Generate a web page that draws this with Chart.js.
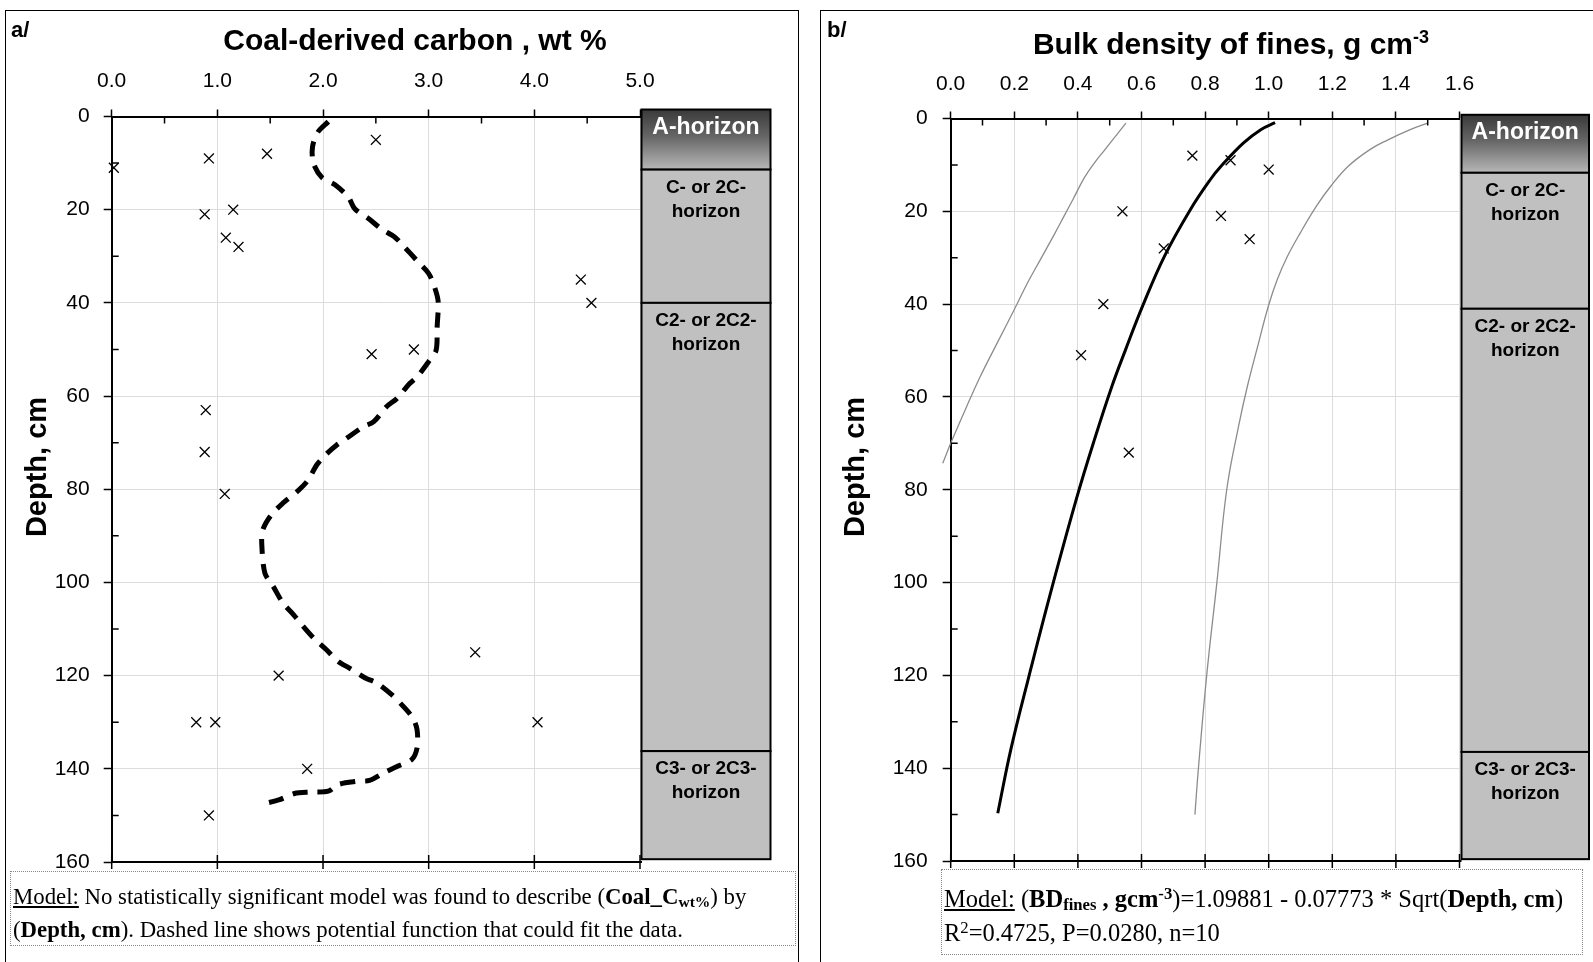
<!DOCTYPE html>
<html lang="en">
<head>
<meta charset="UTF-8" />
<title>Coal-derived carbon and bulk density of fines</title>
<script src="https://cdn.jsdelivr.net/npm/chart.js"></script>
<style>
    body { margin: 0; width: 1593px; height: 962px; background: #fff; position: relative; overflow: hidden;
           font-family: "Liberation Sans", Arial, sans-serif; }
    .panel { position: absolute; border: 1.5px solid #000; box-sizing: border-box; }
    #panelA { left: 5px; top: 10px; width: 794px; height: 1000px; }
    #panelB { left: 820px; top: 10px; width: 780px; height: 1000px; }
    canvas { position: absolute; top: 0; }
    #chartA { left: 0; }
    #chartB { left: 820px; }
    .tag { position: absolute; top: 17px; font: bold 22px "Liberation Sans", Arial, sans-serif; }
    .title { position: absolute; text-align: center; font: bold 30px/34px "Liberation Sans", Arial, sans-serif; }
    .title sup { font-size: 18px; vertical-align: 11px; line-height: 0; }
    .ytitle { position: absolute; width: 200px; margin-left: -100px; text-align: center; transform: rotate(-90deg);
              font: bold 29px/34px "Liberation Sans", Arial, sans-serif; }
    .note { position: absolute; border: 1px dotted #888; box-sizing: border-box;
            font-family: "Liberation Serif", "Times New Roman", serif; padding-left: 2px; white-space: nowrap; }
    .note sub { font-size: 0.68em; vertical-align: -0.2em; line-height: 0; }
    .note sup { font-size: 0.68em; vertical-align: 0.5em; line-height: 0; }
</style>
</head>
<body>
<div class="panel" id="panelA"></div>
<div class="panel" id="panelB"></div>
<canvas id="chartA" width="800" height="962"></canvas>
<canvas id="chartB" width="773" height="962"></canvas>

<div class="tag" style="left:11px">a/</div>
<div class="tag" style="left:827px">b/</div>
<div class="title" style="left:0; width:830px; top:23px">Coal-derived carbon , wt %</div>
<div class="title" style="left:820px; width:822px; top:27px">Bulk density of fines, g cm<sup>-3</sup></div>
<div class="ytitle" style="left:36px; top:450px">Depth, cm</div>
<div class="ytitle" style="left:854px; top:450px">Depth, cm</div>

<div class="note" style="left:10px; top:871px; width:786px; height:75px; padding-top:8px; font-size:22.8px; line-height:33px">
<u>Model:</u> No statistically significant model was found to describe (<b>Coal_C<sub>wt%</sub></b>) by<br>(<b>Depth, cm</b>). Dashed line shows potential function that could fit the data.</div>
<div class="note" style="left:941px; top:869px; width:642px; height:86px; padding-top:12px; font-size:24.5px; line-height:34px">
<u>Model:</u> (<b>BD<sub>fines</sub> , gcm<sup>-3</sup></b>)=1.09881 - 0.07773 * Sqrt(<b>Depth, cm</b>)<br>R<sup>2</sup>=0.4725, P=0.0280, n=10</div>

<script>
// ---- panel a: coal-derived carbon ----
const coalDepth = [5, 8, 9, 11, 20, 21, 26, 28, 35, 40, 50, 51, 63, 72, 81, 115, 120, 130, 130, 130, 140, 150];
const coalC = [2.50, 1.47, 0.92, 0.02, 1.15, 0.88, 1.08, 1.20, 4.44, 4.54, 2.86, 2.46, 0.89, 0.88, 1.07, 3.44, 1.58, 0.80, 0.98, 4.03, 1.85, 0.92];

// dashed "potential function"
const guessDepth = [1.1, 3.4, 6.6, 10.1, 13.1, 14.6, 17.3, 19.8, 21.9, 24.1, 25.9, 28, 31.2, 33.7, 36.9, 39.8, 45.2, 50.2,
    52.6, 55.9, 57.3, 60.5, 62.3, 65.5, 66.6, 69.1, 70.5, 72.7, 74.8, 78, 80.2, 83, 85.5, 88.7, 91.6, 98, 100.9, 104.4,
    106.9, 109.1, 111.9, 114.4, 116.9, 118.4, 120.5, 121.6, 124.1, 126.6, 129.1, 131.6, 135.5, 138, 139.4, 140.7, 142.5,
    142.7, 143.4, 144.8, 145, 145.3, 146.6, 147.5];
const guessC = [2.05, 1.95, 1.90, 1.91, 1.99, 2.11, 2.24, 2.30, 2.43, 2.55, 2.68, 2.77, 2.90, 3.00, 3.06, 3.09, 3.08, 3.07,
    3.00, 2.89, 2.82, 2.70, 2.60, 2.48, 2.38, 2.22, 2.13, 2.02, 1.94, 1.86, 1.77, 1.62, 1.51, 1.43, 1.42, 1.45, 1.53, 1.62,
    1.72, 1.80, 1.91, 2.03, 2.14, 2.25, 2.40, 2.51, 2.65, 2.76, 2.85, 2.89, 2.89, 2.84, 2.71, 2.59, 2.44,
    2.32, 2.14, 2.05, 1.88, 1.73, 1.59, 1.44];

// ---- panel b: bulk density of fines ----
const bdDepth = [8, 9, 11, 20, 21, 26, 28, 40, 51, 72];
const bdFines = [0.76, 0.88, 1.00, 0.54, 0.85, 0.94, 0.67, 0.48, 0.41, 0.56];

const fitDepth = [0.9, 2.4, 5.3, 10.3, 13.2, 19.7, 29.7, 40.5, 49.8, 57.7, 69.2, 81.8, 102.2, 120.2, 136, 149.7];
const fitBD = [1.020, 0.975, 0.920, 0.850, 0.816, 0.753, 0.672, 0.603, 0.550, 0.507, 0.452, 0.396, 0.314, 0.246, 0.189, 0.148];

const lowDepth = [1, 6.7, 9.3, 12.8, 17.5, 21.1, 24.7, 30.4, 35.5, 40.9, 48.4, 55.6, 62.1, 70, 74.3];
const lowBD = [0.551, 0.485, 0.455, 0.420, 0.384, 0.356, 0.328, 0.282, 0.241, 0.202, 0.146, 0.093, 0.050, 0.0, -0.025];

const upDepth = [1, 2.4, 4.6, 6.7, 10.3, 14.6, 18.9, 24.7, 29.7, 34.7, 40.4, 48.4, 57.7, 66.4, 80, 100, 120, 140, 150];
const upBD = [1.500, 1.445, 1.375, 1.318, 1.250, 1.195, 1.150, 1.099, 1.059, 1.027, 0.999, 0.968, 0.933, 0.905, 0.868,
    0.837, 0.805, 0.779, 0.768];

// soil horizons (depth limits, cm)
const horizonNames = [["A-horizon"], ["C- or 2C-", "horizon"], ["C2- or 2C2-", "horizon"], ["C3- or 2C3-", "horizon"]];
const horizonTopA = [-1.5, 11.4, 40, 136.2];
const horizonBottomA = [11.4, 40, 136.2, 159.4];
const horizonTopB = [-0.8, 11.7, 41, 136.5];
const horizonBottomB = [11.7, 41, 136.5, 159.6];

const depthTicks = [0, 20, 40, 60, 80, 100, 120, 140, 160];

function pts(xs, ys) {
    return xs.map((d, i) => ({ x: ys[i], y: d }));
}

const FONT = "'Liberation Sans', Arial, sans-serif";

// bottom edge, minor ticks and the horizon column
const framePlugin = {
    id: "frame",
    afterDraw(chart, args, opt) {
        const { ctx, chartArea: a, scales: { x, y } } = chart;
        ctx.save();
        ctx.strokeStyle = "#000";
        ctx.lineWidth = 2;
        ctx.beginPath();
        ctx.moveTo(a.left, a.bottom);
        ctx.lineTo(a.right + 2, a.bottom);
        ctx.stroke();

        ctx.lineWidth = 1.5;
        ctx.beginPath();
        for (let v = x.min + opt.xMinor; v < x.max; v += opt.xMinor * 2) {
            const px = x.getPixelForValue(v);
            ctx.moveTo(px, a.top);
            ctx.lineTo(px, a.top + 7);
        }
        for (let v = y.min + opt.yMinor; v < y.max; v += opt.yMinor * 2) {
            const py = y.getPixelForValue(v);
            ctx.moveTo(a.left, py);
            ctx.lineTo(a.left + 7, py);
        }
        x.ticks.forEach(t => {
            const px = x.getPixelForValue(t.value);
            ctx.moveTo(px, a.bottom - 7);
            ctx.lineTo(px, a.bottom + 7);
        });
        ctx.stroke();

        const bx = a.right + opt.gap, bw = opt.width;
        horizonNames.forEach((lines, i) => {
            const t = y.getPixelForValue(opt.tops[i]);
            const b = y.getPixelForValue(opt.bottoms[i]);
            if (i === 0) {
                const g = ctx.createLinearGradient(0, t, 0, b);
                g.addColorStop(0, "#3a3a3a");
                g.addColorStop(0.45, "#666");
                g.addColorStop(1, "#b8b8b8");
                ctx.fillStyle = g;
            } else {
                ctx.fillStyle = "#c0c0c0";
            }
            ctx.fillRect(bx, t, bw, b - t);
            ctx.lineWidth = 2;
            ctx.strokeRect(bx, t, bw, b - t);
            ctx.textAlign = "center";
            ctx.textBaseline = "middle";
            if (i === 0) {
                ctx.fillStyle = "#fff";
                ctx.font = "bold 23px " + FONT;
                ctx.fillText(lines[0], bx + bw / 2, t + 18);
            } else {
                ctx.fillStyle = "#000";
                ctx.font = "bold 19px " + FONT;
                lines.forEach((s, k) => ctx.fillText(s, bx + bw / 2, t + 18 + k * 24));
            }
        });
        ctx.restore();
    }
};

function makeChart(id, cfg) {
    new Chart(document.getElementById(id), {
        type: "scatter",
        data: { datasets: cfg.datasets },
        plugins: [framePlugin],
        options: {
            responsive: false,
            animation: false,
            layout: { padding: { left: 0, top: 0, right: cfg.padRight, bottom: cfg.padBottom } },
            plugins: {
                legend: { display: false },
                tooltip: { enabled: false },
                frame: cfg.frame
            },
            scales: {
                x: {
                    type: "linear",
                    position: "top",
                    min: cfg.xMin,
                    max: cfg.xMax,
                    afterFit: s => { s.height = cfg.top; },
                    ticks: {
                        stepSize: cfg.xStep,
                        padding: cfg.xLabelPad,
                        color: "#000",
                        font: { family: FONT, size: 21 },
                        callback: v => Number(v).toFixed(1)
                    },
                    grid: { color: "#dcdcdc", lineWidth: 1, tickColor: "#000", tickWidth: 1.5, tickLength: 7 },
                    border: { color: "#000", width: 2 }
                },
                y: {
                    type: "linear",
                    reverse: true,
                    min: 0,
                    max: 160,
                    afterFit: s => { s.width = cfg.left; },
                    afterBuildTicks: s => { s.ticks = depthTicks.map(v => ({ value: v })); },
                    ticks: {
                        padding: cfg.yLabelPad,
                        color: "#000",
                        font: { family: FONT, size: 21 }
                    },
                    grid: { color: "#dcdcdc", lineWidth: 1, tickColor: "#000", tickWidth: 1.5, tickLength: 8 },
                    border: { color: "#000", width: 2 }
                }
            }
        }
    });
}

makeChart("chartA", {
    left: 111.7, top: 116.5, padRight: 160, padBottom: 100,
    xMin: 0, xMax: 5, xStep: 1, xLabelPad: 16, yLabelPad: 14,
    frame: { xMinor: 0.5, yMinor: 10, gap: 1.5, width: 129, tops: horizonTopA, bottoms: horizonBottomA },
    datasets: [
        {
            label: "potential function",
            data: pts(guessDepth, guessC),
            showLine: true,
            borderColor: "#000",
            borderWidth: 5,
            borderDash: [15, 10],
            tension: 0.3,
            pointRadius: 0
        },
        {
            label: "Coal_C wt%",
            data: pts(coalDepth, coalC),
            pointStyle: "crossRot",
            pointRadius: 7,
            borderColor: "#000",
            borderWidth: 1.3,
            clip: false
        }
    ]
});

makeChart("chartB", {
    left: 130.7, top: 118.5, padRight: 133.5, padBottom: 101,
    xMin: 0, xMax: 1.6, xStep: 0.2, xLabelPad: 14.5, yLabelPad: 15,
    frame: { xMinor: 0.1, yMinor: 10, gap: 2, width: 127.5, tops: horizonTopB, bottoms: horizonBottomB },
    datasets: [
        {
            label: "lower limit",
            data: pts(lowDepth, lowBD),
            showLine: true,
            borderColor: "#8c8c8c",
            borderWidth: 1.3,
            tension: 0.4,
            pointRadius: 0,
            clip: { left: 12, top: 0, right: 0, bottom: 0 }
        },
        {
            label: "upper limit",
            data: pts(upDepth, upBD),
            showLine: true,
            borderColor: "#8c8c8c",
            borderWidth: 1.3,
            tension: 0.4,
            pointRadius: 0
        },
        {
            label: "model",
            data: pts(fitDepth, fitBD),
            showLine: true,
            borderColor: "#000",
            borderWidth: 3,
            tension: 0.4,
            pointRadius: 0
        },
        {
            label: "BD fines",
            data: pts(bdDepth, bdFines),
            pointStyle: "crossRot",
            pointRadius: 7,
            borderColor: "#000",
            borderWidth: 1.3,
            clip: false
        }
    ]
});
</script>
</body>
</html>
